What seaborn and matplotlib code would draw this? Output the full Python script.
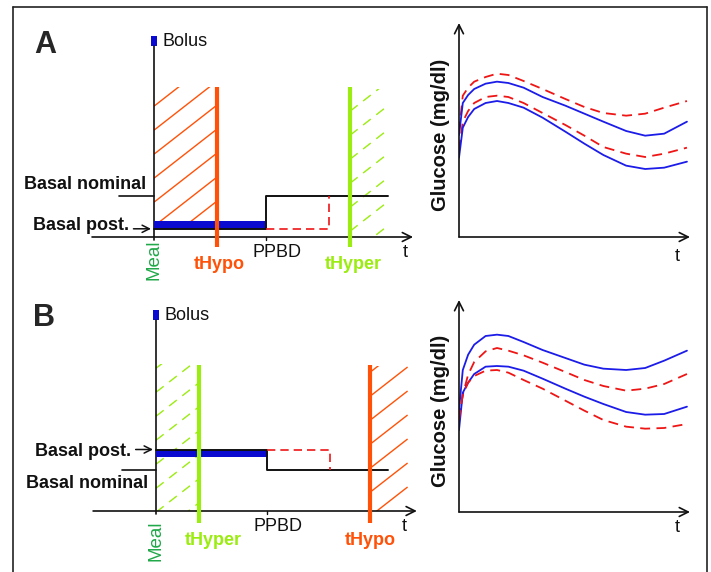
import numpy as np
import pandas as pd
import matplotlib
matplotlib.use("Agg")
import matplotlib.pyplot as plt
from matplotlib.patches import Rectangle
from matplotlib.lines import Line2D
import seaborn as sns

sns.set_theme(style="white")
plt.rcParams["font.family"] = ["Liberation Sans", "DejaVu Sans"]

# ---------------------------------------------------------------- data
# Insulin schedule (time in arbitrary units, meal at t = 0)
meal_time = 0.0
ppbd_time = 3.0
basal_nominal = 1.0
basal_post = {"A": 0.2, "B": 1.5}
extended_end = {"A": 4.7, "B": 4.7}
t_hypo = {"A": 1.7, "B": 5.78}
t_hyper = {"A": 5.25, "B": 1.16}
bolus_size = 0.24

# Glucose traces (time in min, glucose in mg/dl)
time_min = [0, 5, 12, 20, 35, 50, 65, 85, 110, 140, 165, 190, 220, 245, 270, 300]
glc_A_blue_hi = [153, 201, 213, 222, 230, 233, 231, 224, 210, 197, 185, 173, 159, 152, 155, 173]
glc_A_red_hi = [158, 212, 224, 233, 240, 245, 243, 234, 222, 207, 195, 186, 182, 185, 194, 204]
glc_A_red_lo = [131, 173, 189, 201, 210, 212, 210, 201, 186, 168, 152, 135, 125, 120, 125, 134]
glc_A_blue_lo = [119, 164, 180, 192, 201, 204, 201, 194, 179, 158, 140, 123, 107, 102, 104, 113]
glc_B_blue_hi = [153, 213, 236, 251, 264, 266, 264, 255, 243, 231, 221, 215, 213, 216, 227, 242]
glc_B_red_hi = [141, 176, 206, 225, 241, 246, 242, 235, 224, 210, 198, 189, 182, 185, 192, 207]
glc_B_blue_lo = [123, 179, 194, 207, 218, 219, 218, 212, 200, 185, 173, 162, 150, 146, 147, 158]
glc_B_red_lo = [138, 176, 194, 204, 212, 213, 209, 198, 185, 167, 152, 138, 128, 125, 126, 132]

# ---------------------------------------------------------------- style
HYPO = "#ff5208"
HYPER = "#9bec10"
MEAL = "#1fa848"
BOLUS = "#0a0ad0"
RED = "#ee1515"
BLUE = "#1c1ce8"
BLACK = "#111111"

W, H = 711, 572
fig = plt.figure(figsize=(W / 100, H / 100), dpi=100)
fig.patch.set_facecolor("white")


def px_axes(box, origin, scale):
    """Axes whose data units map linearly onto figure pixels."""
    l, t, r, b = box
    ox, oy = origin
    sx, sy = scale
    ax = fig.add_axes([l / W, 1 - b / H, (r - l) / W, (b - t) / H])
    ax.set_xlim((l - ox) / sx, (r - ox) / sx)
    ax.set_ylim((oy - b) / sy, (oy - t) / sy)
    ax.axis("off")
    return ax


def hatch(ax, x0, x1, y0, y1, sx, sy, color, dashed, spacing_px=24, slope=0.78, phase=0.0):
    rect = Rectangle((x0, y0), x1 - x0, y1 - y0, facecolor="none", edgecolor="none")
    ax.add_patch(rect)
    m = slope * sx / sy
    dy = spacing_px / sy
    cs = np.arange(y0 - m * (x1 - x0) + phase, y1 + dy, dy)
    for c in cs:
        xs = np.array([x0, x1])
        ys = c + m * (xs - x0)
        ln, = ax.plot(xs, ys, color=color, lw=1.0,
                      ls=(0, (7, 5)) if dashed else "-", solid_capstyle="butt")
        ln.set_clip_path(rect)


def schematic(ax, key, sx, sy, axis_lim, basal_end, hatch_specs, text_pos):
    post = basal_post[key]
    axis_top = 4.66
    tick = 0.08
    # hatched windows
    for (x0, x1, y0, y1, col, dashed, ph) in hatch_specs:
        hatch(ax, x0, x1, y0, y1, sx, sy, col, dashed, phase=ph)
    # axes
    ax.annotate("", xy=(axis_lim[1], 0), xytext=(axis_lim[0], 0),
                arrowprops=dict(arrowstyle="->", lw=1.2, color=BLACK,
                                shrinkA=0, shrinkB=0, mutation_scale=16))
    ax.plot([meal_time, meal_time], [-tick, axis_top], color=BLACK, lw=1.2)
    ax.plot([ppbd_time, ppbd_time], [-tick, 0], color=BLACK, lw=1.0)
    ax.bar([meal_time], [bolus_size], bottom=axis_top, width=0.14, color=BOLUS, linewidth=0)
    # post-prandial basal block
    thick = 0.18 * np.sign(basal_nominal - post)
    ax.fill_between([meal_time, ppbd_time], post, post + thick, color=BOLUS, lw=0, zorder=3)
    # basal profile
    nom_left = text_pos["nom_left"]
    ax.plot([nom_left, meal_time], [basal_nominal, basal_nominal], color=BLACK, lw=1.2, zorder=4)
    ax.plot([meal_time, ppbd_time, ppbd_time, basal_end],
            [post, post, basal_nominal, basal_nominal], color=BLACK, lw=1.4, zorder=4)
    # extended (alternative) schedule
    ax.plot([ppbd_time, extended_end[key], extended_end[key]],
            [post, post, basal_nominal], color=RED, lw=1.2, ls=(0, (5, 3)), zorder=4)
    # threshold crossings
    for t, col in ((t_hypo[key], HYPO), (t_hyper[key], HYPER)):
        ax.plot([t, t], [text_pos["evt_bottom"], text_pos["evt_top"]], color=col, lw=3.0,
                solid_capstyle="butt", zorder=5)
    # labels
    fs = 13
    ax.text(0.24, axis_top + 0.12, "Bolus", fontsize=fs, va="center", ha="left", color=BLACK)
    ax.text(-0.2, text_pos["nom_y"], "Basal nominal", fontsize=fs, weight="bold",
            ha="right", va="center", color=BLACK)
    ax.text(-0.67, text_pos["post_y"], "Basal post.", fontsize=fs, weight="bold",
            ha="right", va="center", color=BLACK)
    ax.annotate("", xy=(-0.08, post), xytext=(-0.55, post),
                arrowprops=dict(arrowstyle="->", lw=1.1, color=BLACK,
                                shrinkA=0, shrinkB=0, mutation_scale=13))
    ax.text(meal_time, text_pos["meal_top"], "Meal", rotation=90, fontsize=13.5,
            ha="center", va="top", color=MEAL)
    ax.text(3.3, -0.39, "PPBD", fontsize=fs, ha="center", va="center", color=BLACK)
    ax.text(6.72, -0.38, "t", fontsize=fs, ha="center", va="center", color=BLACK)
    ax.text(t_hypo[key] + text_pos["hypo_dx"], text_pos["evt_lab_y"], "tHypo", fontsize=fs,
            weight="bold", ha="center", va="center", color=HYPO)
    ax.text(t_hyper[key] + text_pos["hyper_dx"], text_pos["evt_lab_y"], "tHyper", fontsize=fs,
            weight="bold", ha="center", va="center", color=HYPER)


# ---------------------------------------------------------------- panel A (schedule)
sxA, syA = 37.33, 41.0
axA = px_axes((60, 20, 425, 300), (154, 237), (sxA, syA))
schematic(axA, "A", sxA, syA, (-1.66, 6.94), 6.27,
          [(meal_time, t_hypo["A"], basal_post["A"], 3.66, HYPO, False, 0.1),
           (t_hyper["A"], 6.3, 0.0, 3.61, HYPER, True, 0.3)],
          dict(nom_left=-0.94, nom_y=1.29, post_y=0.27, meal_top=-0.07,
               evt_bottom=-0.24, evt_top=3.66, evt_lab_y=-0.66, hypo_dx=0.05, hyper_dx=0.08))

# ---------------------------------------------------------------- panel B (schedule)
sxB, syB = 37.0, 41.0
axB = px_axes((60, 295, 425, 572), (156, 511), (sxB, syB))
schematic(axB, "B", sxB, syB, (-1.7, 7.05), 6.27,
          [(meal_time, t_hyper["B"], 0.0, 3.59, HYPER, True, 0.2),
           (t_hypo["B"], 6.8, 0.0, 3.54, HYPO, False, 0.0)],
          dict(nom_left=-0.92, nom_y=0.68, post_y=1.44, meal_top=-0.24,
               evt_bottom=-0.29, evt_top=3.57, evt_lab_y=-0.71, hypo_dx=0.0, hyper_dx=0.38))


# ---------------------------------------------------------------- glucose panels
def glucose_panel(box, ymax, traces, t_y):
    l, t, r, b = box
    ax = fig.add_axes([l / W, 1 - b / H, (r - l) / W, (b - t) / H])
    ax.set_xlim(0, 304)
    ax.set_ylim(0, ymax)
    ax.axis("off")
    for vals, col, dashed in traces:
        df = pd.DataFrame({"time": time_min, "glucose": vals})
        if dashed:
            sns.lineplot(data=df, x="time", y="glucose", ax=ax, color=col, lw=1.3,
                         estimator=None, linestyle=(0, (5.5, 3.5)))
        else:
            sns.lineplot(data=df, x="time", y="glucose", ax=ax, color=col, lw=1.3,
                         estimator=None)
    kw = dict(arrowstyle="->", lw=1.2, color=BLACK, shrinkA=0, shrinkB=0, mutation_scale=16)
    ax.annotate("", xy=(1, 0), xytext=(0, 0), xycoords="axes fraction",
                textcoords="axes fraction", arrowprops=kw, annotation_clip=False)
    ax.annotate("", xy=(0, 1), xytext=(0, 0), xycoords="axes fraction",
                textcoords="axes fraction", arrowprops=kw, annotation_clip=False)
    ax.text(-0.082, 0.478, "Glucose (mg/dl)", rotation=90, transform=ax.transAxes,
            fontsize=14.5, weight="bold", ha="center", va="center", color=BLACK)
    ax.text(0.944, t_y, "t", transform=ax.transAxes, fontsize=13,
            ha="center", va="center", color=BLACK)
    return ax


glucose_panel((459, 23, 690, 237), 321,
              [(glc_A_red_hi, RED, True), (glc_A_blue_hi, BLUE, False),
               (glc_A_red_lo, RED, True), (glc_A_blue_lo, BLUE, False)], -0.09)
glucose_panel((459, 300, 690, 512), 318,
              [(glc_B_blue_hi, BLUE, False), (glc_B_red_hi, RED, True),
               (glc_B_blue_lo, BLUE, False), (glc_B_red_lo, RED, True)], -0.072)

# ---------------------------------------------------------------- panel letters and frame
fig.text(45 / W, 1 - 45 / H, "A", fontsize=22, weight="bold", ha="center", va="center")
fig.text(44 / W, 1 - 318 / H, "B", fontsize=22, weight="bold", ha="center", va="center")

for xs, ys in (([13, 13], [7, 580]), ([13, 707], [7, 7]), ([707, 707], [7, 580])):
    fig.add_artist(Line2D([x / W for x in xs], [1 - y / H for y in ys],
                          color="#222222", lw=1.2))

fig.savefig("out.png", dpi=100, facecolor="white")
